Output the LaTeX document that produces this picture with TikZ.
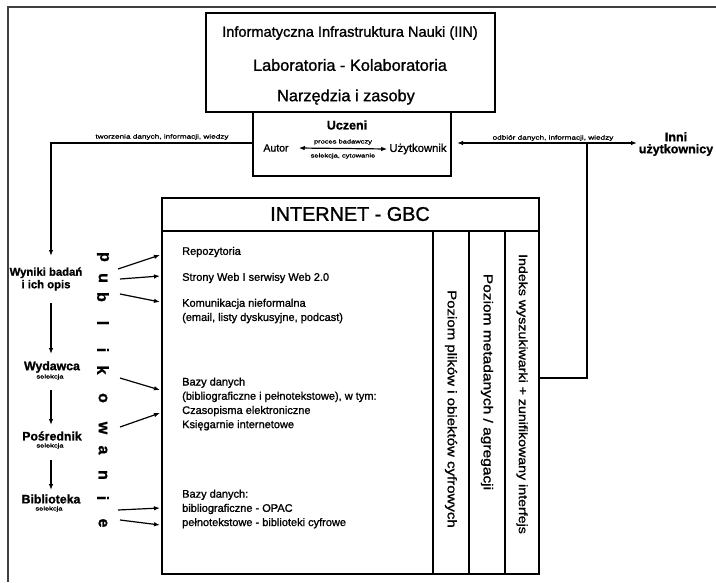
\documentclass[tikz,border=0pt]{standalone}
\usepackage{fontspec}
\usepackage{graphicx}
\setmainfont{Liberation Sans}[FakeBold=1.2]
\usetikzlibrary{arrows.meta}

% squashed small print used for the connector captions
\newcommand{\flatprint}[1]{\scalebox{1}[0.75]{#1}}

\tikzset{
  frame/.style={line width=1.6pt, black!75},
  box/.style={draw, line width=1.4pt},
  wire/.style={line width=1.2pt},
  arr/.style={wire, -{Latex[length=6pt,width=4.5pt]}},
  dbl/.style={wire, {Latex[length=6pt,width=4.5pt]}-{Latex[length=6pt,width=4.5pt]}},
  txt/.style={inner sep=0pt, font=\fontsize{11}{13.5}\selectfont},
  caption/.style={inner sep=0pt, font=\fontsize{8.2}{9}\selectfont},
  micro/.style={inner sep=0pt, font=\fontsize{7.5}{8}\selectfont},
  stage/.style={inner sep=0pt, font=\bfseries\fontsize{12.3}{14}\selectfont},
  letter/.style={inner sep=0pt, rotate=-90, font=\bfseries\fontsize{16}{16}\selectfont},
  coltxt/.style={inner sep=0pt, rotate=-90},
  item/.style={inner sep=0pt, anchor=west, align=left, font=\fontsize{11}{14.2}\selectfont},
}

\begin{document}
\begin{tikzpicture}[x=1pt,y=-1pt]
  \useasboundingbox (0,0) rectangle (716,582);

  % page frame (top and left edges)
  \draw[frame] (716,7) -- (8,7) -- (8,582);

  % Informatyczna Infrastruktura Nauki
  \draw[box] (206,13) rectangle (495,112);
  \node[inner sep=0pt, font=\fontsize{14.6}{16}\selectfont] (iin1) at (350,33) {Informatyczna Infrastruktura Nauki (IIN)};
  \node[inner sep=0pt, font=\fontsize{16.3}{18}\selectfont] (iin2) at (350,65) {Laboratoria - Kolaboratoria};
  \node[inner sep=0pt, font=\fontsize{16.3}{18}\selectfont] (iin3) at (346,97) {Narzędzia i zasoby};

  % Uczeni
  \draw[box] (253,112) rectangle (451,176);
  \coordinate (uczW) at (253,143);
  \coordinate (uczE) at (457,143);
  \node[inner sep=0pt, font=\bfseries\fontsize{12.5}{14}\selectfont] (uczeni) at (347,125) {Uczeni};
  \node[inner sep=0pt, font=\fontsize{10.5}{12}\selectfont] (autor) at (276,148) {Autor};
  \node[inner sep=0pt, font=\fontsize{11.3}{12}\selectfont] (uzyt) at (418,149) {Użytkownik};
  \draw[dbl] ([xshift=10pt]autor.east) -- ([xshift=-2pt]uzyt.west);
  \node[micro] (proces) at (343,142) {\flatprint{proces badawczy}};
  \node[micro] (selek) at (343,156) {\flatprint{selekcja, cytowanie}};

  % left branch: creation of results
  \node[caption] (tworz) at (162,137) {\flatprint{tworzenia danych, informacji, wiedzy}};
  \node[inner sep=0pt, align=center, font=\bfseries\fontsize{11.3}{12.5}\selectfont] (wyniki) at (46,279) {Wyniki badań\\i ich opis};
  \node[stage] (wyd) at (52,367) {Wydawca};
  \node[micro] (wyds) at (50,377) {\flatprint{selekcja}};
  \node[stage] (posr) at (52,436) {Pośrednik};
  \node[micro] (posrs) at (50,446) {\flatprint{selekcja}};
  \node[stage] (bibl) at (51,499) {Biblioteka};
  \node[micro] (bibls) at (49,509) {\flatprint{selekcja}};
  \coordinate (wynTop) at (51,256);
  \draw[arr] (uczW) -| (wynTop);
  \draw[arr] (51,303) -- (51,354);
  \draw[arr] (51,390) -- (51,425);
  \draw[arr] (51,460) -- (51,490);

  % publikowanie, one letter per line
  \foreach \ch/\yy [count=\i] in {p/257,u/278,b/297,l/323,i/350,k/370,o/398,w/428,a/450,n/475,i/498,e/523}
    \node[letter] (pub\i) at (103,\yy) {\ch};

  % INTERNET - GBC
  \draw[box, line width=1.7pt] (162,198) rectangle (539,574);
  \draw[box] (162,231) -- (539,231);
  \draw[box] (433,231) -- (433,574);
  \draw[box] (469,231) -- (469,574);
  \draw[box] (505,231) -- (505,574);
  \node[inner sep=0pt, font=\fontsize{19.8}{22}\selectfont] (gbc) at (350,214) {INTERNET - GBC};

  \node[item] (repo) at (182,252) {Repozytoria};
  \node[item] (web) at (182,278) {Strony Web I serwisy Web 2.0};
  \node[item] (kom) at (182,311) {Komunikacja nieformalna\\(email, listy dyskusyjne, podcast)};
  \node[item] (bazy) at (182,404) {Bazy danych\\(bibliograficzne i pełnotekstowe), w tym:\\Czasopisma elektroniczne\\Księgarnie internetowe};
  \node[item] (bazy2) at (182,509) {Bazy danych:\\bibliograficzne - OPAC\\pełnotekstowe - biblioteki cyfrowe};

  \node[coltxt, font=\fontsize{15}{16}\selectfont] (pliki) at (451,409) {\scalebox{1}[0.85]{Poziom plików i obiektów cyfrowych}};
  \node[coltxt, font=\fontsize{15.5}{16}\selectfont] (meta) at (487,382) {\scalebox{1}[0.85]{Poziom metadanych / agregacji}};
  \node[coltxt, font=\fontsize{14.2}{16}\selectfont] (indeks) at (522,394) {\scalebox{1}[0.85]{Indeks wyszukiwarki + zunifikowany interfejs}};

  % publication arrows into the Internet box
  \coordinate (s1) at (118,269); \coordinate (e1) at (160,255);
  \coordinate (s2) at (120,279); \coordinate (e2) at (160,276);
  \coordinate (s3) at (120,294); \coordinate (e3) at (160,302);
  \coordinate (s4) at (120,378); \coordinate (e4) at (160,390);
  \coordinate (s5) at (120,427); \coordinate (e5) at (160,413);
  \coordinate (s6) at (118,510); \coordinate (e6) at (160,508);
  \coordinate (s7) at (120,520); \coordinate (e7) at (160,525);
  \foreach \k in {1,...,7}
    \draw[arr] (s\k) -- (e\k);

  % right branch: reception by other users
  \node[caption] (odbior) at (553,138) {\flatprint{odbiór danych, informacji, wiedzy}};
  \node[inner sep=0pt, align=center, font=\bfseries\fontsize{12.5}{12}\selectfont] (inni) at (676,144) {Inni\\użytkownicy};
  \coordinate (inniW) at (637,143);
  \coordinate (junc) at (587,143);
  \coordinate (idxE) at (539,378);
  \draw[dbl] (uczE) -- (inniW);
  \draw[wire] (junc) |- (idxE);
\end{tikzpicture}
\end{document}
